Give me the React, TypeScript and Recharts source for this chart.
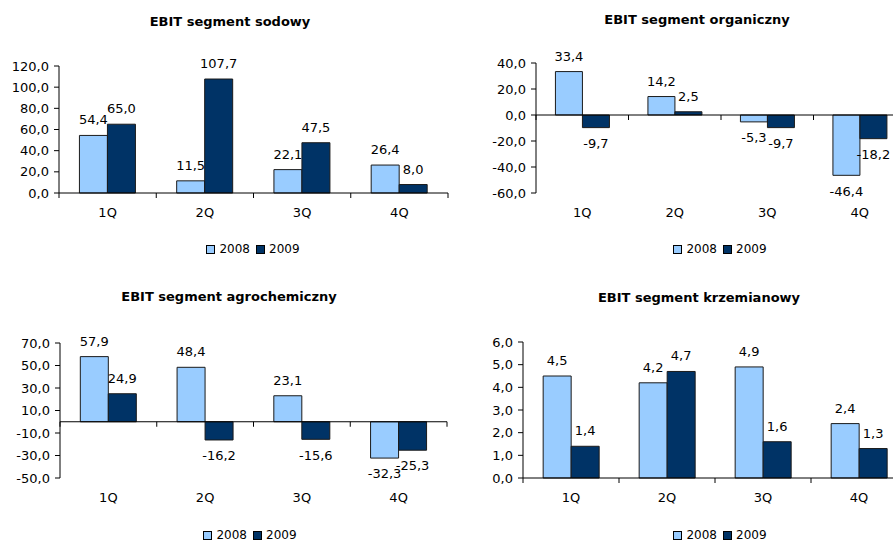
import React from "react";
import {
  BarChart,
  Bar,
  XAxis,
  YAxis,
  LabelList,
  ReferenceLine
} from "recharts";

const QUARTERS = ["1Q", "2Q", "3Q", "4Q"];
const SERIES = ["2008", "2009"];

const SODOWY_2008 = [54.4, 11.5, 22.1, 26.4];
const SODOWY_2009 = [65.0, 107.7, 47.5, 8.0];
const SODOWY_TICKS = [0, 20, 40, 60, 80, 100, 120];

const ORGANICZNY_2008 = [33.4, 14.2, -5.3, -46.4];
const ORGANICZNY_2009 = [-9.7, 2.5, -9.7, -18.2];
const ORGANICZNY_TICKS = [-60, -40, -20, 0, 20, 40];

const AGRO_2008 = [57.9, 48.4, 23.1, -32.3];
const AGRO_2009 = [24.9, -16.2, -15.6, -25.3];
const AGRO_TICKS = [-50, -30, -10, 10, 30, 50, 70];

const KRZEM_2008 = [4.5, 4.2, 4.9, 2.4];
const KRZEM_2009 = [1.4, 4.7, 1.6, 1.3];
const KRZEM_TICKS = [0, 1, 2, 3, 4, 5, 6];

const COLORS = ["#99ccff", "#003366"];
const FONT = "'DejaVu Sans', 'Liberation Sans', Arial, sans-serif";

const fmt = (v: any) => Number(v).toFixed(1).replace(".", ",");

const buildRows = (a: number[], b: number[]) =>
  QUARTERS.map((q, i) => ({ q, y2008: a[i], y2009: b[i] }));

// tick marks between categories, drawn on the zero line
const ZeroTicks = ({ viewBox }: any) => {
  if (!viewBox) return null;
  const { x, y, width } = viewBox;
  const step = width / QUARTERS.length;
  return (
    <g>
      {Array.from({ length: QUARTERS.length + 1 }, (_, i) => (
        <line key={i} x1={x + i * step} x2={x + i * step} y1={y} y2={y + 5} stroke="#000" strokeWidth={1} />
      ))}
    </g>
  );
};

interface PanelProps {
  title: string;
  a: number[];
  b: number[];
  ticks: number[];
  left: number;
  top: number;
  width: number;
  margin: { top: number; right: number; bottom: number; left: number };
  titleX: number;
  titleY: number;
  legendX: number;
  legendY: number;
}

const Panel: React.FC<PanelProps> = ({ title, a, b, ticks, left, top, width, margin, titleX, titleY, legendX, legendY }) => {
  const data = buildRows(a, b);
  return (
    <>
      <div style={{
        position: "absolute", left: titleX - 200, top: titleY - 9, width: 400, lineHeight: "18px",
        textAlign: "center", fontFamily: FONT, fontWeight: 700, fontSize: 13, color: "#000"
      }}>
        {title}
      </div>
      <div style={{ position: "absolute", left, top }}>
        <BarChart width={width} height={271} data={data} margin={margin} barGap={0} barCategoryGap="21%">
          <XAxis
            dataKey="q"
            axisLine={false}
            tickLine={false}
            tickSize={0}
            tickMargin={15}
            height={30}
            tick={{ fontSize: 13, fill: "#000", fontFamily: FONT }}
          />
          <YAxis
            width={55}
            domain={[ticks[0], ticks[ticks.length - 1]]}
            ticks={ticks}
            interval={0}
            tickFormatter={fmt}
            axisLine={{ stroke: "#000" }}
            tickLine={{ stroke: "#000" }}
            tickSize={5}
            tickMargin={5}
            tick={{ fontSize: 13, fill: "#000", fontFamily: FONT }}
          />
          {SERIES.map((s, i) => (
            <Bar key={s} dataKey={`y${s}`} name={s} fill={COLORS[i]} stroke="#1a1a1a" strokeWidth={1} isAnimationActive={false}>
              <LabelList dataKey={`y${s}`} position="top" offset={11} formatter={fmt} fill="#000" fontSize={13} fontFamily={FONT} />
            </Bar>
          ))}
          <ReferenceLine y={0} stroke="#000" strokeWidth={1} label={<ZeroTicks />} />
        </BarChart>
      </div>
      <div style={{
        position: "absolute", left: legendX - 100, top: legendY - 8, width: 200, height: 16,
        display: "flex", alignItems: "center", justifyContent: "center",
        fontFamily: FONT, fontSize: 12, color: "#000"
      }}>
        {SERIES.map((s, i) => (
          <span key={s} style={{ display: "flex", alignItems: "center", marginRight: i === 0 ? 6 : 0 }}>
            <span style={{ width: 7, height: 7, border: "1px solid #000", background: COLORS[i], marginRight: 4 }} />
            {s}
          </span>
        ))}
      </div>
    </>
  );
};

export default function App() {
  return (
    <div style={{ position: "absolute", left: 0, top: 0, width: 893, height: 542, overflow: "hidden", background: "#fff" }}>
      <Panel
        title="EBIT segment sodowy" a={SODOWY_2008} b={SODOWY_2009} ticks={SODOWY_TICKS}
        left={0} top={0} width={450} margin={{ top: 66, right: 2, bottom: 48, left: 4 }}
        titleX={230} titleY={22} legendX={253} legendY={249}
      />
      <Panel
        title="EBIT segment organiczny" a={ORGANICZNY_2008} b={ORGANICZNY_2009} ticks={ORGANICZNY_TICKS}
        left={443} top={0} width={465} margin={{ top: 63, right: 2, bottom: 48, left: 38 }}
        titleX={697} titleY={20} legendX={720} legendY={249}
      />
      <Panel
        title="EBIT segment agrochemiczny" a={AGRO_2008} b={AGRO_2009} ticks={AGRO_TICKS}
        left={0} top={271} width={450} margin={{ top: 72, right: 3, bottom: 34, left: 5 }}
        titleX={229} titleY={297} legendX={250} legendY={535}
      />
      <Panel
        title="EBIT segment krzemianowy" a={KRZEM_2008} b={KRZEM_2009} ticks={KRZEM_TICKS}
        left={443} top={271} width={466} margin={{ top: 71, right: 2, bottom: 34, left: 25 }}
        titleX={699} titleY={298} legendX={720} legendY={535}
      />
    </div>
  );
}
